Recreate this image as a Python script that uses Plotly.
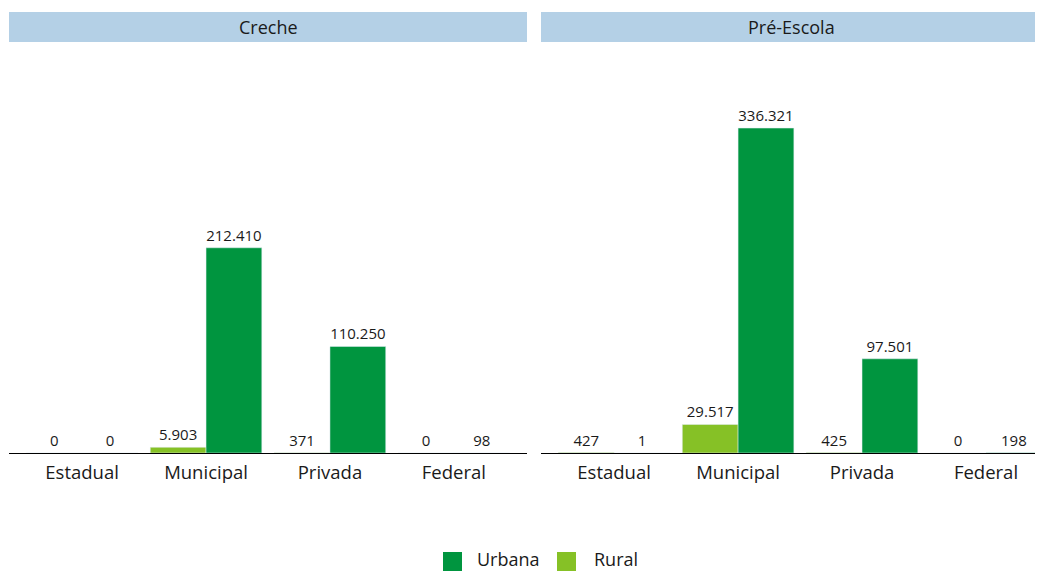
import plotly.graph_objects as go

categories = ["Estadual", "Municipal", "Privada", "Federal"]
panels = ["Creche", "Pré-Escola"]
series_names = ["Urbana", "Rural"]
rural_creche = [0, 5903, 371, 0]
urbana_creche = [0, 212410, 110250, 98]
rural_pre = [427, 29517, 425, 0]
urbana_pre = [1, 336321, 97501, 198]

C_URB = "#00953f"
C_RUR = "#86c126"
HEAD = "#b4d0e6"
TXT = "#1a1a1a"

def fmt(v):
    return f"{v:,}".replace(",", ".")

# page body has an 8px margin: figure occupies screen pixels 8..1043, 8..572
OFF = 8
W, H = 1043 - OFF, 572 - OFF

def px(X):
    return (X - OFF) / W

def py(Y):
    return 1 - (Y - OFF) / H

fig = go.Figure()
xs = list(range(len(categories)))
for i, (rur, urb) in enumerate([(rural_creche, urbana_creche), (rural_pre, urbana_pre)]):
    xa = "x" if i == 0 else "x2"
    ya = "y" if i == 0 else "y2"
    fig.add_trace(go.Bar(x=xs, y=rur, name="Rural", marker_color=C_RUR,
                         text=[fmt(v) for v in rur], textposition="outside",
                         textfont=dict(size=15, color=TXT), cliponaxis=False,
                         xaxis=xa, yaxis=ya, showlegend=False, offsetgroup="r"))
    fig.add_trace(go.Bar(x=xs, y=urb, name="Urbana", marker_color=C_URB,
                         text=[fmt(v) for v in urb], textposition="outside",
                         textfont=dict(size=15, color=TXT), cliponaxis=False,
                         xaxis=xa, yaxis=ya, showlegend=False, offsetgroup="u"))

ybot = py(453)
ytop = py(45)
yrange = [0, 422300]
axis_common = dict(tickmode="array", tickvals=xs, ticktext=categories, showline=True,
                   linecolor="black", linewidth=1, ticks="", showgrid=False, zeroline=False,
                   ticklabelstandoff=3, tickfont=dict(size=18.5, color=TXT))
fig.update_layout(
    width=W, height=H, paper_bgcolor="white", plot_bgcolor="white",
    margin=dict(l=0, r=0, t=0, b=0, autoexpand=False),
    barmode="group", bargap=0.1, bargroupgap=0,
    font=dict(family="Open Sans, sans-serif", color=TXT),
    showlegend=False,
    xaxis=dict(domain=[px(9), px(527)], range=[-0.59, 3.59], **axis_common),
    xaxis2=dict(domain=[px(541), 1.0], range=[-0.59, 3.46], anchor="y2", **axis_common),
    yaxis=dict(domain=[ybot, ytop], range=yrange, visible=False),
    yaxis2=dict(domain=[ybot, ytop], range=yrange, visible=False, anchor="x2"),
)

# facet headers
for x0, x1, title in [(9, 527, panels[0]), (541, 1043, panels[1])]:
    fig.add_shape(type="rect", xref="paper", yref="paper", x0=px(x0), x1=min(px(x1), 1.0),
                  y0=py(42), y1=py(12), fillcolor=HEAD, line_width=0, layer="below")
    fig.add_annotation(xref="paper", yref="paper", x=(px(x0) + min(px(x1), 1.0)) / 2,
                       y=py(27), text=title, showarrow=False,
                       font=dict(size=18, color=TXT), xanchor="center", yanchor="middle")

# legend (bottom centre)
for name, col, sx, tx in [(series_names[0], C_URB, 443, 478), (series_names[1], C_RUR, 557, 595)]:
    fig.add_shape(type="rect", xref="paper", yref="paper", x0=px(sx), x1=px(sx + 19),
                  y0=py(571), y1=py(552), fillcolor=col, line_width=0)
    fig.add_annotation(xref="paper", yref="paper", x=px(tx), y=py(559), text=name,
                       showarrow=False, font=dict(size=18, color=TXT), borderpad=0,
                       xanchor="left", yanchor="middle", xshift=-2)

fig.write_html("out.html")
